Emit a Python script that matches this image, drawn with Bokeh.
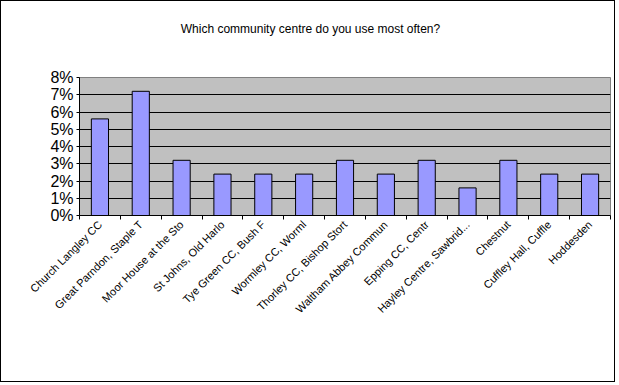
import math
import numpy as np
from bokeh.plotting import figure
from bokeh.layouts import column
from bokeh.models import Range1d, FixedTicker, NumeralTickFormatter, ColumnDataSource, Div
from bokeh.embed import file_html
from bokeh.resources import INLINE

title = "Which community centre do you use most often?"
categories = [
    "Church Langley CC", "Great Parndon, Staple T", "Moor House at the Sto",
    "St Johns, Old Harlo", "Tye Green CC, Bush F", "Wormley CC, Worml",
    "Thorley CC, Bishop Stort", "Waltham Abbey Commun", "Epping CC, Centr",
    "Hayley Centre, Sawbrid...", "Chestnut", "Cuffley Hall, Cuffle", "Hoddesden",
]
values = [0.056, 0.072, 0.032, 0.024, 0.024, 0.024, 0.032, 0.024, 0.032, 0.016, 0.032, 0.024, 0.024]
y_ticks = [0, 0.01, 0.02, 0.03, 0.04, 0.05, 0.06, 0.07, 0.08]

n = len(categories)
centers = [i + 0.5 for i in range(n)]
bounds = list(range(n + 1))

src = ColumnDataSource(dict(x=centers, top=values, name=categories))

header = Div(text=title, width=613, height=66, margin=0,
             styles={"font-family": "Liberation Sans", "font-size": "12px",
                     "text-align": "center", "line-height": "56px", "text-indent": "6px",
                     "color": "black", "background": "white", "overflow": "hidden"})

p = figure(width=613, height=314, output_backend="svg", toolbar_location=None,
           x_range=Range1d(0, n), y_range=Range1d(0, 0.08),
           min_border_left=78, min_border_right=4, min_border_top=10, min_border_bottom=166,
           background_fill_color="#C0C0C0", border_fill_color="white")
p.title.visible = False

p.vbar(x="x", top="top", width=0.42, source=src, fill_color="#9999FF",
       line_color="black", line_width=1)

p.outline_line_color = "#808080"
p.xgrid.visible = False
p.ygrid.grid_line_color = "black"
p.ygrid.grid_line_width = 1
p.ygrid.ticker = FixedTicker(ticks=y_ticks)

p.yaxis.ticker = FixedTicker(ticks=y_ticks)
p.yaxis.formatter = NumeralTickFormatter(format="0%")
p.yaxis.major_label_text_font = "Liberation Sans"
p.yaxis.major_label_text_font_size = "16px"
p.yaxis.major_label_text_color = "black"
p.yaxis.major_label_standoff = 3
p.yaxis.major_tick_out = 3
p.yaxis.major_tick_in = 0
p.yaxis.minor_tick_out = 0
p.yaxis.axis_line_color = "black"

p.xaxis.ticker = FixedTicker(ticks=centers, minor_ticks=bounds)
p.xaxis.major_label_overrides = {c: name for c, name in zip(centers, categories)}
p.xaxis.major_label_orientation = math.pi / 4
p.xaxis.major_label_text_font = "Liberation Sans"
p.xaxis.major_label_text_font_size = "11px"
p.xaxis.major_label_text_color = "black"
p.xaxis.major_label_standoff = 3
p.xaxis.major_tick_out = 0
p.xaxis.major_tick_in = 0
p.xaxis.minor_tick_out = 4
p.xaxis.minor_tick_in = 0
p.xaxis.minor_tick_line_color = "black"
p.xaxis.axis_line_color = "black"

layout = column(header, p, spacing=0, styles={"border": "1px solid black", "background": "white"})

open("out.html", "w").write(file_html(layout, INLINE))
